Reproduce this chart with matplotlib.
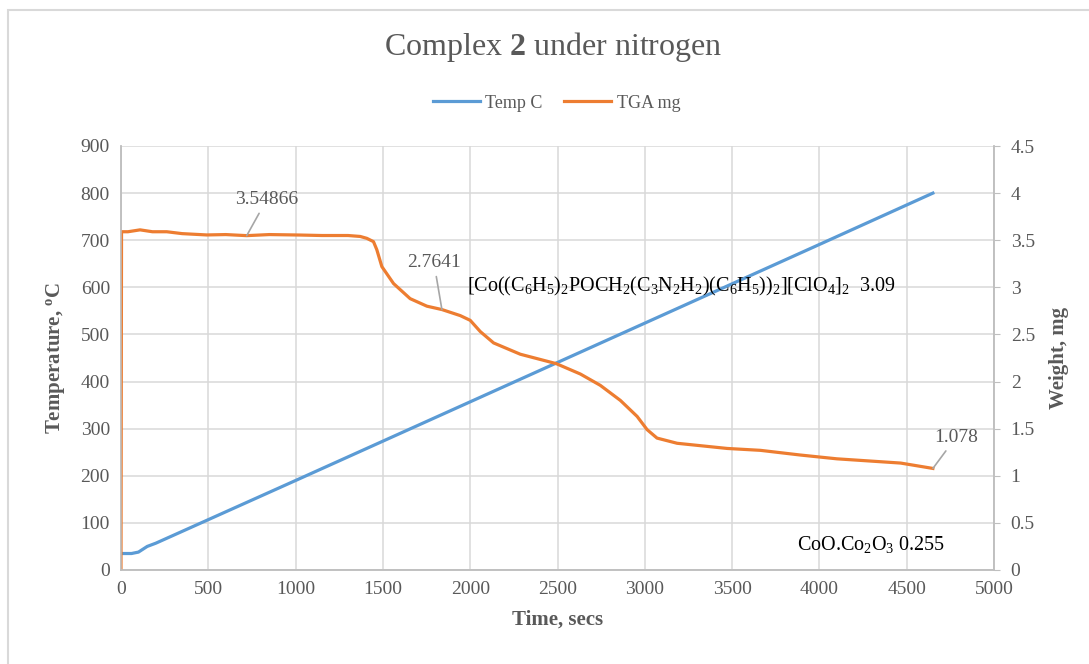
import matplotlib.pyplot as plt
import matplotlib
from matplotlib.patches import Rectangle

matplotlib.rcParams['font.family'] = ['Liberation Serif', 'DejaVu Serif']
matplotlib.rcParams['mathtext.fontset'] = 'custom'
matplotlib.rcParams['mathtext.rm'] = 'Liberation Serif'
matplotlib.rcParams['mathtext.it'] = 'Liberation Serif:italic'
matplotlib.rcParams['mathtext.bf'] = 'Liberation Serif:bold'

GREY = '#595959'
BLUE = '#5b9bd5'
ORANGE = '#ed7d31'

# heating programme (secs, deg C)
time_temp = [0, 60, 100, 150, 200, 1000, 2000, 3000, 4000, 4650]
temp_c = [35, 35, 38, 50, 57, 190, 357, 524, 691, 800]

# sample mass (secs, mg)
time_tga = [0, 3, 40, 109, 180, 262, 350, 491, 600, 720, 850, 1026, 1150, 1300,
            1370, 1408, 1446, 1465, 1494, 1561, 1656, 1752, 1838, 1943, 2000,
            2058, 2134, 2287, 2493, 2631, 2745, 2860, 2956, 3013, 3070, 3185,
            3472, 3662, 3892, 4100, 4465, 4650]
weight_mg = [0, 3.59, 3.59, 3.61, 3.59, 3.59, 3.57, 3.556, 3.56, 3.54866, 3.56,
             3.555, 3.55, 3.55, 3.54, 3.52, 3.485, 3.40, 3.22, 3.04, 2.88, 2.80,
             2.7641, 2.70, 2.65, 2.53, 2.41, 2.29, 2.19, 2.08, 1.96, 1.80, 1.63,
             1.49, 1.40, 1.345, 1.29, 1.27, 1.22, 1.18, 1.135, 1.078]

x_ticks = list(range(0, 5001, 500))
temp_ticks = list(range(0, 901, 100))
weight_ticks = [0, 0.5, 1, 1.5, 2, 2.5, 3, 3.5, 4, 4.5]
weight_labels = ['0', '0.5', '1', '1.5', '2', '2.5', '3', '3.5', '4', '4.5']

fig = plt.figure(figsize=(10.89, 6.64), dpi=100)
# chart area border
fig.patches.append(Rectangle((8 / 1089, -0.1), 1.2, 1.1 - 10 / 664,
                             transform=fig.transFigure, fill=False,
                             edgecolor='#d9d9d9', linewidth=1.5))

ax = fig.add_axes([121 / 1089, 1 - 570 / 664, 873 / 1089, 424 / 664])
ax2 = ax.twinx()

l1, = ax.plot(time_temp, temp_c, color=BLUE, lw=2.3, label='Temp C')
l2, = ax2.plot(time_tga, weight_mg, color=ORANGE, lw=2.3, label='TGA mg')

ax.set_xlim(0, 5000)
ax.set_ylim(0, 900)
ax2.set_ylim(0, 4.5)
ax.set_xticks(x_ticks)
ax.set_yticks(temp_ticks)
ax2.set_yticks(weight_ticks)
ax2.set_yticklabels(weight_labels)

ax.grid(True, color='#d9d9d9', lw=1.1)
ax.set_axisbelow(True)
for a in (ax, ax2):
    a.spines['top'].set_visible(False)
    for s in ('left', 'right', 'bottom'):
        a.spines[s].set_color('#bfbfbf')
        a.spines[s].set_linewidth(1.1)
ax.tick_params(axis='both', length=0, labelsize=14, labelcolor=GREY, pad=8)
ax2.tick_params(axis='y', length=4, color='#bfbfbf', labelsize=14,
                labelcolor=GREY, pad=8)

ax.set_xlabel('Time, secs', fontsize=15, fontweight='bold', color=GREY, labelpad=8)
ax.set_ylabel(r'Temperature, $^{\mathbf{o}}$C', fontsize=15, fontweight='bold',
              color=GREY, labelpad=10)
ax2.set_ylabel('Weight, mg', fontsize=15, fontweight='bold', color=GREY,
               labelpad=10)

fig.text(0.508, 1 - 47 / 664, r'Complex $\mathbf{2}$ under nitrogen',
         ha='center', va='center', fontsize=23, color=GREY)
fig.legend(handles=[l1, l2], loc='center', bbox_to_anchor=(0.511, 1 - 103 / 664),
           ncol=2, frameon=False, fontsize=13, handlelength=2.6,
           handletextpad=0.3, columnspacing=1.2, labelcolor=GREY)

# data labels with leader lines
for t, w, dx, dy in [(720, 3.54866, 20, 36), (1838, 2.7641, -8, 47),
                     (4650, 1.078, 23, 31)]:
    ax2.annotate(f'{w:g}', xy=(t, w), xytext=(dx, dy), textcoords='offset pixels',
                 ha='center', va='center', fontsize=14, color=GREY,
                 arrowprops=dict(arrowstyle='-', color='#a6a6a6', lw=1.2,
                                 shrinkA=2, shrinkB=0))

ax.text(1983, 592,
        r'[Co((C$_6$H$_5$)$_2$POCH$_2$(C$_3$N$_2$H$_2$)(C$_6$H$_5$))$_2$]'
        r'[ClO$_4$]$_2$  3.09', ha='left', va='baseline', fontsize=14.5,
        color='black')
ax.text(3873, 42, r'CoO.Co$_2$O$_3$ 0.255', ha='left', va='baseline',
        fontsize=14.5, color='black')

fig.savefig('out.png', dpi=100)
